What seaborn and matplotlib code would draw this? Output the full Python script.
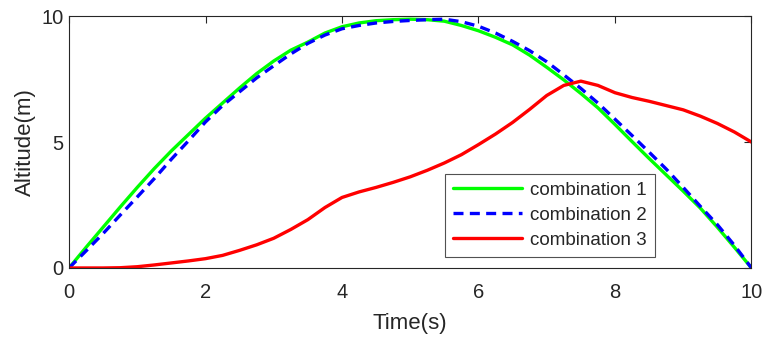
import numpy as np
import pandas as pd
import matplotlib
matplotlib.use('Agg')
import matplotlib.pyplot as plt
import seaborn as sns

time_s = [0, 0.25, 0.5, 0.75, 1, 1.25, 1.5, 1.75, 2, 2.25, 2.5, 2.75, 3, 3.25, 3.5, 3.75,
          4, 4.25, 4.5, 4.75, 5, 5.25, 5.5, 5.75, 6, 6.25, 6.5, 6.75, 7, 7.25, 7.5, 7.75,
          8, 8.25, 8.5, 8.75, 9, 9.25, 9.5, 9.75, 10]
alt_comb1 = [0, 0.82, 1.62, 2.42, 3.2, 3.95, 4.65, 5.3, 5.95, 6.55, 7.15, 7.72, 8.22, 8.65, 8.97, 9.33,
             9.58, 9.73, 9.82, 9.86, 9.88, 9.86, 9.8, 9.63, 9.42, 9.16, 8.86, 8.45, 7.97, 7.47, 6.93, 6.36,
             5.7, 5.02, 4.35, 3.7, 3.05, 2.38, 1.62, 0.82, 0]
alt_comb2 = [0, 0.68, 1.37, 2.1, 2.82, 3.55, 4.32, 5.05, 5.8, 6.45, 7.0, 7.55, 8.03, 8.5, 8.92, 9.25,
             9.5, 9.63, 9.73, 9.79, 9.83, 9.86, 9.88, 9.78, 9.6, 9.33, 9.0, 8.63, 8.19, 7.67, 7.13, 6.55,
             5.91, 5.26, 4.6, 3.93, 3.2, 2.45, 1.72, 0.9, 0]
alt_comb3 = [0, 0, 0, 0.01, 0.05, 0.12, 0.2, 0.28, 0.37, 0.5, 0.7, 0.92, 1.18, 1.53, 1.92, 2.4,
             2.8, 3.02, 3.2, 3.4, 3.62, 3.88, 4.17, 4.5, 4.9, 5.32, 5.78, 6.3, 6.85, 7.25, 7.42, 7.25,
             6.96, 6.77, 6.62, 6.45, 6.28, 6.03, 5.74, 5.4, 5.0]
labels = ['combination 1', 'combination 2', 'combination 3']

df = pd.concat([
    pd.DataFrame({'Time': time_s, 'Altitude': vals, 'Series': lab})
    for lab, vals in zip(labels, [alt_comb1, alt_comb2, alt_comb3])
])

sns.set_style('white')
plt.rcParams['font.family'] = ['Liberation Sans', 'DejaVu Sans']

fig = plt.figure(figsize=(7.72, 3.44), dpi=100)
ax = fig.add_axes([0.0894, 0.221, 0.884, 0.732])

sns.lineplot(data=df, x='Time', y='Altitude', hue='Series', style='Series',
             palette={labels[0]: '#00ff00', labels[1]: '#0000ff', labels[2]: '#ff0000'},
             dashes={labels[0]: '', labels[1]: (3, 1.9), labels[2]: ''},
             linewidth=2.4, ax=ax)

ax.set_xlim(0, 10)
ax.set_ylim(0, 10)
ax.set_xticks([0, 2, 4, 6, 8, 10])
ax.set_yticks([0, 5, 10])
ax.tick_params(direction='in', top=True, right=True, length=5, width=0.8,
               labelsize=14.5, colors='#262626')
ax.tick_params(axis='x', pad=11)
ax.tick_params(axis='y', pad=4)
for s in ax.spines.values():
    s.set_color('#262626')
    s.set_linewidth(0.8)
ax.set_xlabel('Time(s)', fontsize=16, color='#262626', labelpad=8)
ax.set_ylabel('Altitude(m)', fontsize=16, color='#262626', labelpad=4)

leg = ax.legend(loc='lower right', bbox_to_anchor=(0.858, 0.044), fontsize=13.5,
                frameon=True, fancybox=False, edgecolor='#262626',
                handlelength=3.7, borderpad=0.42, labelspacing=0.42, handletextpad=0.4,
                borderaxespad=0)
leg.get_frame().set_linewidth(0.8)

fig.savefig('out.png', dpi=100)
